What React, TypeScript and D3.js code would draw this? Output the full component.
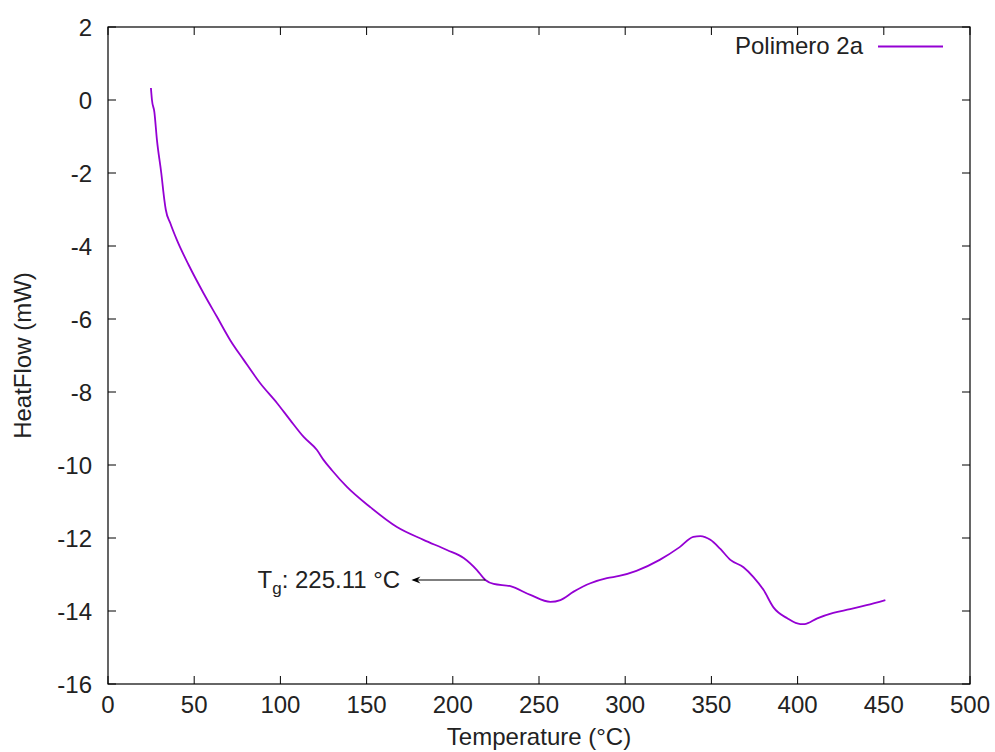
import React from "react";
import * as d3 from "d3";

const temperature = [
  24.9, 25.5, 26.9, 28.4, 30.9, 32.7, 33.5, 36.1, 40.0, 46.8, 55.5, 63.2, 70.9, 78.7, 88.3,
  98.0, 105.7, 113.5, 121.2, 125.0, 130.0, 138.6, 152.0, 167.6, 183.0, 196.6, 206.3, 214.0, 218.9,
  223.7, 233.4, 245.0, 256.6, 262.4, 270.1, 279.8, 289.4, 296.5, 306.5, 320.0, 331.6, 339.5, 343.6,
  349.4, 355.2, 361.0, 368.6, 374.4, 380.2, 386.0, 394.0, 401.6, 404.0, 411.4, 420.7, 430.5, 440.0,
  450.9,
];
const heatFlow = [
  0.33, 0.0, -0.33, -1.1, -2.0, -2.74, -3.0, -3.37, -3.84, -4.52, -5.3, -5.94, -6.58, -7.12, -7.76,
  -8.3, -8.77, -9.23, -9.59, -9.86, -10.15, -10.6, -11.15, -11.7, -12.05, -12.33, -12.55, -12.88, -13.15,
  -13.26, -13.32, -13.56, -13.75, -13.7, -13.47, -13.24, -13.1, -13.04, -12.9, -12.6, -12.25, -11.97, -11.95,
  -12.05, -12.3, -12.6, -12.8, -13.07, -13.42, -13.9, -14.2, -14.36, -14.36, -14.2, -14.05, -13.95, -13.84,
  -13.7,
];
const xTicks = [0, 50, 100, 150, 200, 250, 300, 350, 400, 450, 500];
const yTicks = [2, 0, -2, -4, -6, -8, -10, -12, -14, -16];
const seriesName = "Polimero 2a";
const tgLabelValue = "225.11 °C";
const tgArrow = { fromX: 218.9, toX: 176, y: -13.15, textX: 169.5 };

const W = 995, H = 752;
const L = 108, R = 970, T = 27, B = 684;
const FONT = "'Liberation Sans', Arial, sans-serif";
const TEXT = "#222";
const PURPLE = "#9400d3";

export default function App() {
  const x = d3.scaleLinear().domain([0, 500]).range([L, R]);
  const y = d3.scaleLinear().domain([-16, 2]).range([B, T]);
  const pts = temperature.map((t, i) => [t, heatFlow[i]] as [number, number]);
  const line = d3.line<[number, number]>().x(d => x(d[0])).y(d => y(d[1])).curve(d3.curveMonotoneX);
  const tick = 8;
  const ay = y(tgArrow.y);
  const ax0 = x(tgArrow.fromX), ax1 = x(tgArrow.toX);
  return (
    <svg width={W} height={H} style={{ position: "absolute", left: 0, top: 0, background: "#fff" }}
      fontFamily={FONT} fontSize={24} fill={TEXT}>
      <rect x={0} y={0} width={W} height={H} fill="#fff" />
      {xTicks.map(t => (
        <g key={"x" + t}>
          <line x1={x(t)} x2={x(t)} y1={B} y2={B - tick} stroke="#000" />
          <line x1={x(t)} x2={x(t)} y1={T} y2={T + tick} stroke="#000" />
          <text x={x(t)} y={713} textAnchor="middle">{t}</text>
        </g>
      ))}
      {yTicks.map(t => (
        <g key={"y" + t}>
          <line x1={L} x2={L + tick} y1={y(t)} y2={y(t)} stroke="#000" />
          <line x1={R} x2={R - tick} y1={y(t)} y2={y(t)} stroke="#000" />
          <text x={92} y={y(t) + 8.5} textAnchor="end">{t}</text>
        </g>
      ))}
      <rect x={L} y={T} width={R - L} height={B - T} fill="none" stroke="#000" strokeWidth={1.2} />
      <path d={line(pts) || ""} fill="none" stroke={PURPLE} strokeWidth={1.8} strokeLinejoin="round" />
      <text x={863} y={54} textAnchor="end">{seriesName}</text>
      <line x1={878} x2={943} y1={46.5} y2={46.5} stroke={PURPLE} strokeWidth={1.8} />
      <line x1={ax0} x2={ax1 + 2} y1={ay} y2={ay} stroke="#000" strokeWidth={1.2} />
      <path d={`M${ax1},${ay} L${ax1 + 9},${ay - 3.5} L${ax1 + 6},${ay} L${ax1 + 9},${ay + 3.5} Z`} fill="#000" />
      <text x={x(tgArrow.textX)} y={ay + 8.5} textAnchor="end">
        <tspan>T</tspan>
        <tspan fontSize={17} dy={6}>g</tspan>
        <tspan dy={-6}>{": " + tgLabelValue}</tspan>
      </text>
      <text x={(L + R) / 2} y={745} textAnchor="middle">Temperature (°C)</text>
      <text transform={`translate(31, ${(T + B) / 2}) rotate(-90)`} textAnchor="middle">HeatFlow (mW)</text>
    </svg>
  );
}
